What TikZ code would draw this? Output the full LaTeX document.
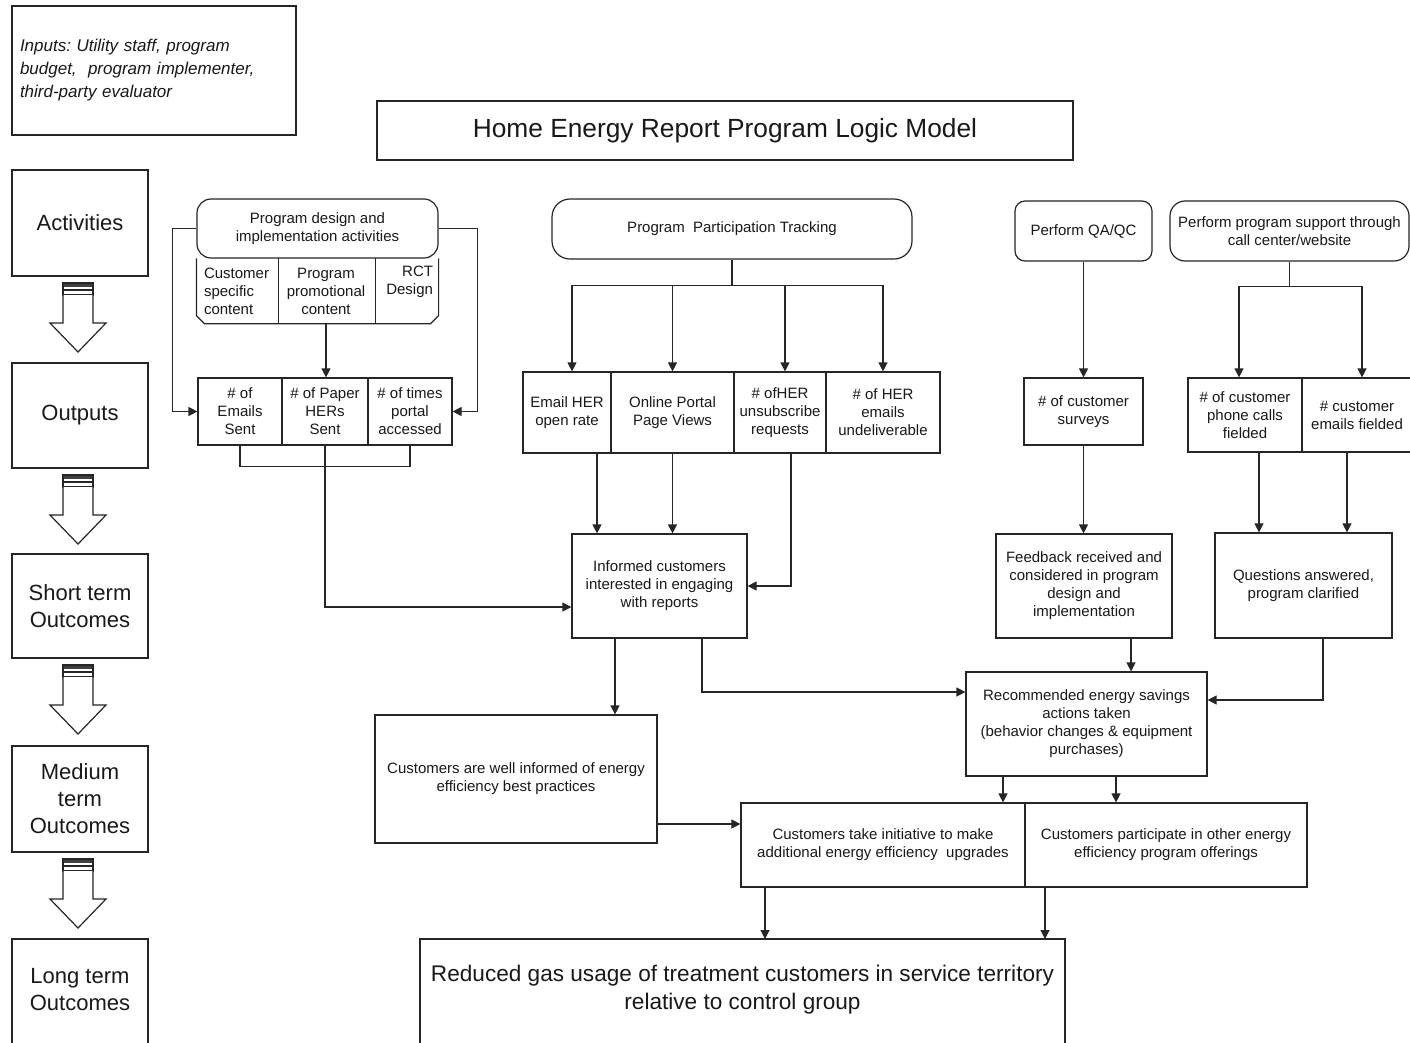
\documentclass[tikz,border=0pt]{standalone}
\usepackage{fontspec}
\setmainfont{Liberation Sans}
\usetikzlibrary{arrows.meta,calc}
\frenchspacing
\newcommand\fs{\fontsize{15}{18}\selectfont}
\newcommand\fl{\fontsize{22}{27}\selectfont}
\newcommand\blkarr[1]{%
  \begin{scope}[shift={(0,#1)}]
    \fill[black!75] (63,0) rectangle (93,4);
    \draw[ln] (63,0) rectangle (93,12);
    \draw[ln] (63,7) -- (93,7);
    \draw[ln,fill=white,line join=miter] (63,12) -- (63,40) -- (50,40) -- (78,69) -- (106,40) -- (93,40) -- (93,12);
  \end{scope}}
\tikzset{
  ln/.style={line width=1.2pt, draw=black!85},
  box/.style={ln, draw, rectangle, inner sep=3pt, align=center, font=\fs, text=black!90},
  rbox/.style={box, rounded corners=14pt},
  cell/.style={rectangle, inner sep=3pt, font=\fs, text=black!90},
  lbl/.style={box, font=\fl, minimum width=136},
  arr/.style={ln, -{Triangle[length=9pt,width=9pt]}},
}
\begin{document}
\begin{tikzpicture}[x=1pt,y=-1pt]
\useasboundingbox (0,0) rectangle (1410,1042);
\fill[white] (0,0) rectangle (1410,1042);

% inputs and title
\node[box, minimum width=284, minimum height=129, text width=268, inner xsep=8, align=left,
      font=\fontsize{17}{23}\selectfont\itshape] (inputs) at (154,70.5)
  {Inputs: Utility staff, program\\budget,~ program implementer,\\third-party evaluator};
\node[box, minimum width=696, minimum height=59, font=\fontsize{26.3}{30}\selectfont] (title) at (725,130.5)
  {Home Energy Report Program Logic Model};

% left column
\node[lbl, minimum height=106] (act) at (80,223) {Activities};
\node[lbl, minimum height=105] (outp) at (80,415.5) {Outputs};
\node[lbl, minimum height=104] (st) at (80,606) {Short term\\Outcomes};
\node[lbl, minimum height=106] (mt) at (80,799) {Medium\\term\\Outcomes};
\node[lbl, draw=none, outer sep=0pt, minimum height=102] (lt) at (80,990) {Long term\\Outcomes};
\draw[ln] ([yshift=-10pt]lt.south west) -- (lt.north west) -- (lt.north east) -- ([yshift=-10pt]lt.south east);
\blkarr{283}
\blkarr{475}
\blkarr{665}
\blkarr{859}

% program design
\node[rbox, minimum width=241, minimum height=59] (pd) at (317.5,228.5)
  {Program design and\\implementation activities};
\node[cell, minimum width=80, minimum height=65, text width=68, inner xsep=6, align=left] (pc1) at (238,291)
  {Customer\\specific\\content};
\node[cell, minimum width=98, minimum height=65, align=center] (pc2) at (326,291)
  {Program\\promotional\\content};
\node[cell, minimum width=63, minimum height=65, text width=53, inner xsep=5, align=right] (pc3) at (406.5,292)
  {RCT\\Design\\\strut};
\draw[ln] (pd.south west |- pc1.north) -- ([yshift=8pt]pd.south west |- pc1.south) -- ([xshift=8pt]pd.south west |- pc1.south)
  -- ([xshift=-8pt]pd.south east |- pc1.south) -- ([yshift=8pt]pd.south east |- pc1.south) -- (pd.south east |- pc1.north);
\draw[ln] (pc1.north east) -- (pc1.south east);
\draw[ln] (pc2.north east) -- (pc2.south east);

\node[box, minimum width=84, minimum height=67] (o1) at (240,411.5) {\# of\\Emails\\Sent};
\node[box, minimum width=86, minimum height=67] (o2) at (325,411.5) {\# of Paper\\HERs\\Sent};
\node[box, minimum width=84, minimum height=67] (o3) at (410,411.5) {\# of times\\portal\\accessed};

% participation tracking
\node[box, rounded corners=18pt, minimum width=360, minimum height=60] (ppt) at (732,229)
  {Program~ Participation Tracking};
\node[box, minimum width=88, minimum height=81] (e1) at (567,412.5) {Email HER\\open rate};
\node[box, minimum width=123, minimum height=81] (e2) at (672.5,412.5) {Online Portal\\Page Views};
\node[box, minimum width=92, minimum height=81, inner xsep=1pt] (e3) at (780,412.5) {\# ofHER\\unsubscribe\\requests};
\node[box, minimum width=114, minimum height=81] (e4) at (883,412.5) {\# of HER\\emails\\undeliverable};
\node[box, minimum width=175, minimum height=104] (inf) at (659.5,586)
  {Informed customers\\interested in engaging\\with reports};
\node[box, minimum width=282, minimum height=128] (wi) at (516,779)
  {Customers are well informed of energy\\efficiency best practices};

% QA/QC and support
\node[box, rounded corners=10pt, minimum width=137, minimum height=60] (qa) at (1083.5,231) {Perform QA/QC};
\node[box, minimum width=119, minimum height=67] (cs) at (1083.5,411.5) {\# of customer\\surveys};
\node[box, minimum width=176, minimum height=104] (fb) at (1084,586)
  {Feedback received and\\considered in program\\design and\\implementation};
\node[box, rounded corners=15pt, minimum width=239, minimum height=60] (ps) at (1289.5,231)
  {Perform program support through\\call center/website};
\node[box, minimum width=114, minimum height=74] (ph) at (1245,415) {\# of customer\\phone calls\\fielded};
\node[box, minimum width=110, minimum height=74] (ce) at (1357,415) {\# customer\\emails fielded};
\node[box, minimum width=177, minimum height=105] (qu) at (1303.5,585.5)
  {Questions answered,\\program clarified};
\node[box, minimum width=241, minimum height=104] (rec) at (1086.5,724)
  {Recommended energy savings\\actions taken\\(behavior changes \& equipment\\purchases)};
\node[box, minimum width=284, minimum height=84] (tk) at (883,845)
  {Customers take initiative to make\\additional energy efficiency~ upgrades};
\node[box, minimum width=282, minimum height=84] (tp) at (1166,845)
  {Customers participate in other energy\\efficiency program offerings};
\node[box, draw=none, outer sep=0pt, minimum width=645, minimum height=102, font=\fontsize{22.6}{28}\selectfont] (red) at (742.5,990)
  {Reduced gas usage of treatment customers in service territory\\relative to control group};
\draw[ln] ([yshift=-10pt]red.south west) -- (red.north west) -- (red.north east) -- ([yshift=-10pt]red.south east);

% connectors: program design
\draw[arr] (pd.west) -- ++(-24,0) |- (o1.west);
\draw[arr] (pd.east) -- ++(39,0) |- (o3.east);
\draw[arr] (pc2.south) -- (pc2.south |- o2.north);
\draw[ln] (o1.south) -- ++(0,21) -| (o3.south);
\draw[arr] (o2.south) |- ([yshift=-21pt]inf.west);

% connectors: participation tracking
\draw[ln] (ppt.south) -- ++(0,26) coordinate (pj);
\draw[arr] (pj) -| ([xshift=5pt]e1.north);
\draw[arr] (pj) -| (e2.north);
\draw[arr] (pj) -| ([xshift=5pt]e3.north);
\draw[arr] (pj) -| (e4.north);
\coordinate (a1) at ([xshift=30pt]e1.south);
\draw[arr] (a1) -- (a1 |- inf.north);
\draw[arr] (e2.south) -- (e2.south |- inf.north);
\coordinate (a3) at ([xshift=11pt]e3.south);
\draw[arr] (a3) |- (inf.east);
\coordinate (b1) at ([xshift=-44.5pt]inf.south);
\draw[arr] (b1) -- (b1 |- wi.north);
\coordinate (b2) at ([xshift=42.5pt]inf.south);
\draw[arr] (b2) |- ([yshift=32pt]rec.west);
\coordinate (tkin) at ([yshift=21pt]tk.west);
\draw[arr] (wi.east |- tkin) -- (tkin);

% connectors: QA/QC and support
\draw[arr] (qa.south) -- (cs.north);
\draw[arr] (cs.south) -- (cs.south |- fb.north);
\coordinate (f1) at ([xshift=47pt]fb.south);
\draw[arr] (f1) -- (f1 |- rec.north);
\draw[ln] (ps.south) -- ++(0,25) coordinate (psj);
\draw[arr] (psj) -| ([xshift=-6pt]ph.north);
\draw[arr] (psj) -| ([xshift=5pt]ce.north);
\coordinate (g1) at ([xshift=14pt]ph.south);
\draw[arr] (g1) -- (g1 |- qu.north);
\coordinate (g2) at ([xshift=-10pt]ce.south);
\draw[arr] (g2) -- (g2 |- qu.north);
\coordinate (h1) at ([xshift=19.5pt]qu.south);
\draw[arr] (h1) |- ([yshift=24pt]rec.east);

% connectors: outcomes
\coordinate (c1) at ([xshift=-83.5pt]rec.south);
\draw[arr] (c1) -- (c1 |- tk.north);
\coordinate (c2) at ([xshift=29.5pt]rec.south);
\draw[arr] (c2) -- (c2 |- tp.north);
\coordinate (d1) at ([xshift=-118pt]tk.south);
\draw[arr] (d1) -- (d1 |- red.north);
\coordinate (d2) at ([xshift=-121pt]tp.south);
\draw[arr] (d2) -- (d2 |- red.north);
\end{tikzpicture}
\end{document}
